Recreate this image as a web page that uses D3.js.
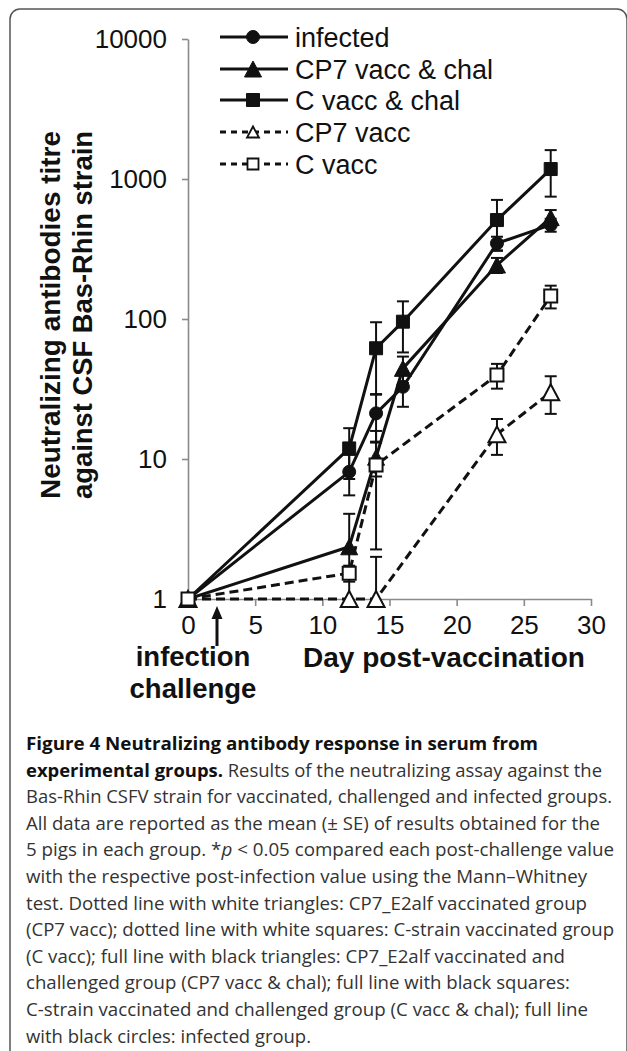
<!DOCTYPE html>
<html>
<head>
<meta charset="utf-8">
<script src="https://cdn.jsdelivr.net/npm/d3@7"></script>
<style>
body { margin: 0; background: #fff; }
svg { display: block; }
</style>
</head>
<body>
<svg width="627" height="1051"></svg>
<script>
// days sampled
var days = [0, 12, 14, 16, 23, 27];
var vaccDays = [0, 12, 14, 23, 27];

// mean titres and SE
var infected = [1, 8.1, 21.2, 32.8, 347, 470];
var infectedSE = [0, 2.6, 7.9, 9.2, 40, 50];
var cp7VaccChal = [1, 2.36, 10.3, 44.4, 243, 530];
var cp7VaccChalSE = [0, 1.7, 2.8, 9.5, 30, 70];
var cVaccChal = [1, 11.9, 61.8, 95.7, 509, 1178];
var cVaccChalSE = [0, 4.7, 33, 38, 200, 430];
var cp7Vacc = [1, 1, 1, 15, 30];
var cp7VaccSE = [0, 0, 1.0, 4.3, 9];
var cVacc = [1, 1.53, 9.06, 39.8, 146];
var cVaccSE = [0, 0.2, 6.8, 8, 27];

var seriesNames = ["infected", "CP7 vacc & chal", "C vacc & chal", "CP7 vacc", "C vacc"];
var xTicks = [0, 5, 10, 15, 20, 25, 30];
var yTicks = [1, 10, 100, 1000, 10000];

var captionLines = [
  [{t: "Figure 4 Neutralizing antibody response in serum from", b: true}],
  [{t: "experimental groups.", b: true}, {t: " Results of the neutralizing assay against the"}],
  [{t: "Bas-Rhin CSFV strain for vaccinated, challenged and infected groups."}],
  [{t: "All data are reported as the mean (\u00b1 SE) of results obtained for the"}],
  [{t: "5 pigs in each group. *"}, {t: "p", i: true}, {t: " < 0.05 compared each post-challenge value"}],
  [{t: "with the respective post-infection value using the Mann\u2013Whitney"}],
  [{t: "test. Dotted line with white triangles: CP7_E2alf vaccinated group"}],
  [{t: "(CP7 vacc); dotted line with white squares: C-strain vaccinated group"}],
  [{t: "(C vacc); full line with black triangles: CP7_E2alf vaccinated and"}],
  [{t: "challenged group (CP7 vacc & chal); full line with black squares:"}],
  [{t: "C-strain vaccinated and challenged group (C vacc & chal); full line"}],
  [{t: "with black circles: infected group."}]
];
var captionWidths = [512, 576, 586, 574, 588, 561, 561, 588, 539, 544, 562, 285];

var series = [
  {name: seriesNames[0], x: days, v: infected, se: infectedSE, dash: false, shape: "circle", fill: true},
  {name: seriesNames[1], x: days, v: cp7VaccChal, se: cp7VaccChalSE, dash: false, shape: "triangle", fill: true},
  {name: seriesNames[2], x: days, v: cVaccChal, se: cVaccChalSE, dash: false, shape: "square", fill: true},
  {name: seriesNames[3], x: vaccDays, v: cp7Vacc, se: cp7VaccSE, dash: true, shape: "triangle", fill: false},
  {name: seriesNames[4], x: vaccDays, v: cVacc, se: cVaccSE, dash: true, shape: "square", fill: false}
];
series.forEach(function(s) {
  s.pts = s.x.map(function(d, i) { return {d: d, v: s.v[i], se: s.se[i]}; });
});

var svg = d3.select("svg");
var font = "'Liberation Sans', Arial, sans-serif";

// frame
svg.append("rect")
  .attr("x", 10).attr("y", 9).attr("width", 617).attr("height", 1080)
  .attr("rx", 10)
  .attr("fill", "none").attr("stroke", "#555").attr("stroke-width", 1.5);

var x = d3.scaleLinear().domain([0, 30]).range([188, 591]);
var y = d3.scaleLog().domain([1, 10000]).range([599, 39]).clamp(true);

// axes
var gy = svg.append("g").attr("transform", "translate(188,0)")
  .call(d3.axisLeft(y).tickValues(yTicks).tickFormat(d3.format("d")).tickSize(6).tickSizeOuter(0).tickPadding(15));
var gx = svg.append("g").attr("transform", "translate(0,599)")
  .call(d3.axisBottom(x).tickValues(xTicks).tickSize(7).tickSizeOuter(0));

[gy, gx].forEach(function(g) {
  g.select(".domain").attr("stroke", "#8a8a8a").attr("stroke-width", 1.6);
  g.selectAll(".tick line").attr("stroke", "#8a8a8a").attr("stroke-width", 1.6);
  g.selectAll(".tick text").attr("fill", "#111").style("font-family", font).style("font-size", "26px");
});
gx.selectAll(".tick text").attr("y", 35).attr("dy", 0);

// y title
var yTitle = [
  {t: "Neutralizing antibodies titre", bx: 60},
  {t: "against CSF Bas-Rhin strain", bx: 92}
];
yTitle.forEach(function(l) {
  svg.append("text")
    .attr("transform", "translate(" + l.bx + ",315) rotate(-90)")
    .attr("text-anchor", "middle")
    .attr("textLength", 368).attr("lengthAdjust", "spacingAndGlyphs")
    .style("font-family", font).style("font-size", "27px").style("font-weight", "bold")
    .attr("fill", "#111")
    .text(l.t);
});

// x labels
svg.append("text")
  .attr("x", 303).attr("y", 667)
  .attr("textLength", 282).attr("lengthAdjust", "spacingAndGlyphs")
  .style("font-family", font).style("font-size", "27px").style("font-weight", "bold")
  .attr("fill", "#111")
  .text("Day post-vaccination");
["infection", "challenge"].forEach(function(t, i) {
  svg.append("text")
    .attr("x", 193).attr("y", 666 + i * 32)
    .attr("text-anchor", "middle")
    .style("font-family", font).style("font-size", "27.5px").style("font-weight", "bold")
    .attr("fill", "#111")
    .text(t);
});
// arrow
svg.append("line")
  .attr("x1", 217).attr("x2", 217).attr("y1", 646).attr("y2", 617)
  .attr("stroke", "#111").attr("stroke-width", 3);
svg.append("path")
  .attr("d", "M217,606 L222.5,619 L211.5,619 Z")
  .attr("fill", "#111");

function shapePath(shape, big) {
  var s;
  if (shape === "square") {
    s = big ? 6.5 : 5.5;
    return "M" + (-s) + "," + (-s) + "H" + s + "V" + s + "H" + (-s) + "Z";
  }
  if (shape === "triangle") {
    var w = big ? 8.5 : 6, h = big ? 8 : 5.5;
    return "M0," + (-h) + "L" + w + "," + h + "L" + (-w) + "," + h + "Z";
  }
  var r = big ? 6.5 : 6;
  return "M" + (-r) + ",0A" + r + "," + r + " 0 1,0 " + r + ",0A" + r + "," + r + " 0 1,0 " + (-r) + ",0Z";
}

var plot = svg.append("g");

// error bars
series.forEach(function(s) {
  s.pts.filter(function(p) { return p.se > 0; }).forEach(function(p) {
    var cx = x(p.d);
    var top = y(p.v + p.se), bot = y(Math.max(p.v - p.se, 1));
    plot.append("line").attr("x1", cx).attr("x2", cx).attr("y1", top).attr("y2", bot)
      .attr("stroke", "#111").attr("stroke-width", 2);
    plot.append("line").attr("x1", cx - 6).attr("x2", cx + 6).attr("y1", top).attr("y2", top)
      .attr("stroke", "#111").attr("stroke-width", 2);
    if (p.v - p.se > 1)
      plot.append("line").attr("x1", cx - 6).attr("x2", cx + 6).attr("y1", bot).attr("y2", bot)
        .attr("stroke", "#111").attr("stroke-width", 2);
  });
});

var line = d3.line().x(function(p) { return x(p.d); }).y(function(p) { return y(p.v); });

series.forEach(function(s) {
  plot.append("path").datum(s.pts)
    .attr("d", line)
    .attr("fill", "none").attr("stroke", "#111").attr("stroke-width", 3)
    .attr("stroke-dasharray", s.dash ? "9,5" : null);
});

series.forEach(function(s) {
  plot.selectAll(null).data(s.pts).enter().append("path")
    .attr("transform", function(p) { return "translate(" + x(p.d) + "," + y(p.v) + ")"; })
    .attr("d", shapePath(s.shape, true))
    .attr("fill", s.fill ? "#111" : "#fff")
    .attr("stroke", "#111").attr("stroke-width", s.fill ? 1 : 2);
});

// legend
var legend = svg.append("g");
var legendY = [37, 69, 100, 132, 164];
series.forEach(function(s, i) {
  var ly = legendY[i];
  legend.append("line").attr("x1", 220).attr("x2", 288).attr("y1", ly).attr("y2", ly)
    .attr("stroke", "#111").attr("stroke-width", 3)
    .attr("stroke-dasharray", s.dash ? "6,5" : null);
  legend.append("path")
    .attr("transform", "translate(253," + ly + ")")
    .attr("d", shapePath(s.shape, s.fill))
    .attr("fill", s.fill ? "#111" : "#fff")
    .attr("stroke", "#111").attr("stroke-width", s.fill ? 1 : 1.8);
  legend.append("text")
    .attr("x", 295).attr("y", ly + 9.5)
    .style("font-family", font).style("font-size", "27px")
    .attr("fill", "#111")
    .text(s.name);
});

// caption
var cap = svg.append("g");
captionLines.forEach(function(parts, i) {
  var t = cap.append("text")
    .attr("x", 26).attr("y", 750 + i * 26.6)
    .attr("textLength", captionWidths[i]).attr("lengthAdjust", "spacingAndGlyphs")
    .style("font-family", "'Open Sans', 'Noto Sans', sans-serif").style("font-size", "18px")
    .attr("fill", "#333");
  parts.forEach(function(p) {
    t.append("tspan")
      .style("font-weight", p.b ? "bold" : null)
      .style("font-style", p.i ? "italic" : null)
      .attr("fill", p.b ? "#111" : null)
      .text(p.t);
  });
});
</script>
</body>
</html>
